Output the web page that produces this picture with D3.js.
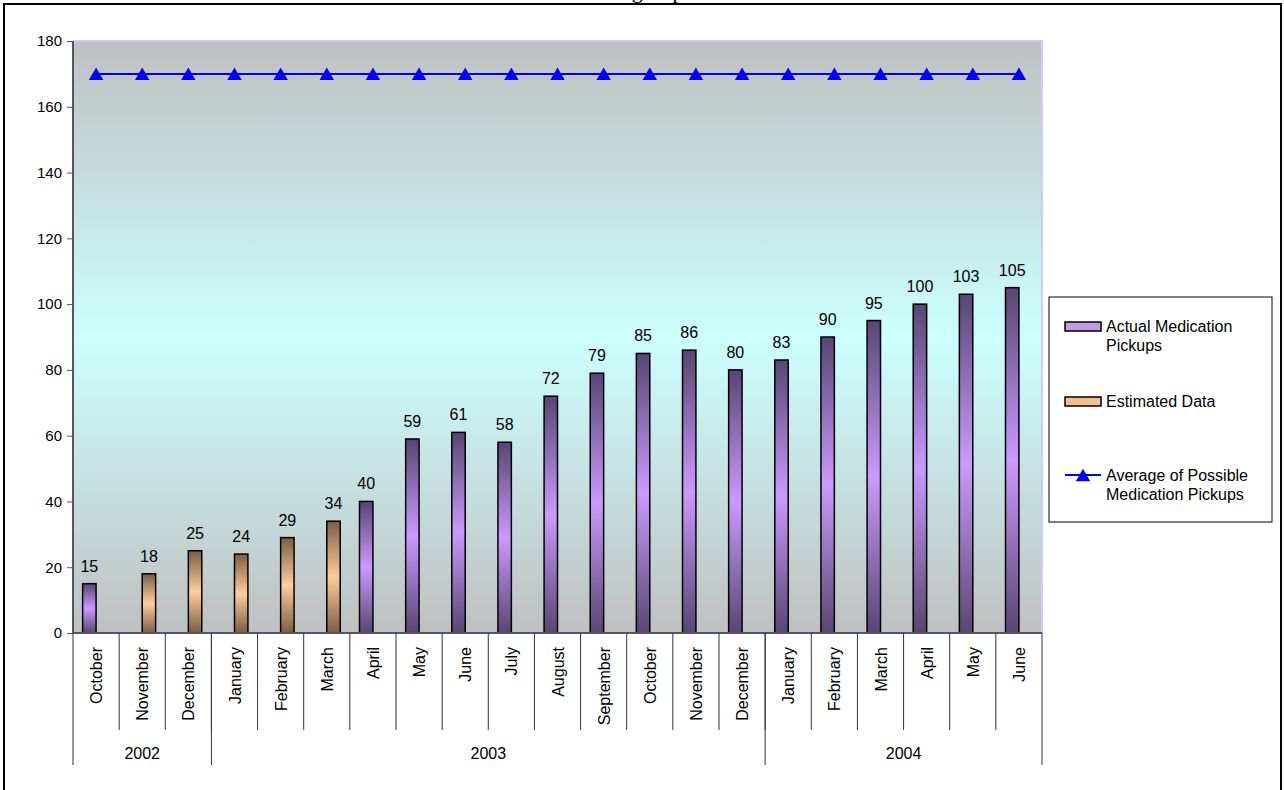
<!DOCTYPE html>
<html lang="en">
    <head>
        <title>Medication Pickups</title>
        <script src="https://d3js.org/d3.v7.min.js"></script>
        <style>
            body { margin: 0; background: #fff; }
            text { font-family: 'Liberation Sans', Arial, sans-serif; }
        </style>
    </head>
    <body>
    <div id="mainDiv"></div>

        <script type="text/javascript">
            // chart values
            const months = ['October', 'November', 'December', 'January', 'February', 'March', 'April',
                'May', 'June', 'July', 'August', 'September', 'October', 'November', 'December',
                'January', 'February', 'March', 'April', 'May', 'June']
            const years = [
                { label: '2002', from: 0, to: 3 },
                { label: '2003', from: 3, to: 15 },
                { label: '2004', from: 15, to: 21 }
            ]
            const actualPickups = [15, null, null, null, null, null, 40, 59, 61, 58, 72, 79, 85, 86, 80,
                83, 90, 95, 100, 103, 105]
            const estimatedData = [null, 18, 25, 24, 29, 34, null, null, null, null, null, null, null,
                null, null, null, null, null, null, null, null]
            const possibleAverage = [170, 170, 170, 170, 170, 170, 170, 170, 170, 170, 170, 170, 170,
                170, 170, 170, 170, 170, 170, 170, 170]
            const yTicks = [0, 20, 40, 60, 80, 100, 120, 140, 160, 180]

            const width = 1284
            const height = 790

            const plot = { left: 73, right: 1042, top: 41, bottom: 633 }

            const svg = d3.select('#mainDiv').append('svg')
                .attr('width', width)
                .attr('height', height)

            const defs = svg.append('defs')

            // vertical gradients: dark - light - dark
            function addGradient(id, edge, mid) {
                const g = defs.append('linearGradient')
                    .attr('id', id)
                    .attr('x1', 0).attr('y1', 0).attr('x2', 0).attr('y2', 1)
                g.append('stop').attr('offset', '0%').attr('stop-color', edge)
                g.append('stop').attr('offset', '50%').attr('stop-color', mid)
                g.append('stop').attr('offset', '100%').attr('stop-color', edge)
            }
            addGradient('bgGrad', '#c0c0c0', '#ccffff')
            addGradient('actualGrad', '#574672', '#cc99ff')
            addGradient('estGrad', '#7a5e45', '#ffcc99')

            // outer frame and cut off title
            svg.append('rect')
                .attr('x', 4).attr('y', 4)
                .attr('width', 1277).attr('height', 820)
                .attr('fill', 'none')
                .attr('stroke', '#000')
                .attr('stroke-width', 2)

            svg.append('text')
                .attr('x', 564).attr('y', -2)
                .style('font-family', "'Liberation Serif', 'Times New Roman', serif")
                .style('font-size', '22px')
                .text('Tracking Report')

            const xScale = d3.scaleBand()
                .domain(d3.range(months.length))
                .range([plot.left, plot.right])
                .padding(0)

            const xSeries = d3.scaleBand()
                .domain(['actual', 'estimated'])
                .range([0, xScale.bandwidth()])
                .paddingInner(0)
                .paddingOuter(0.72)

            const yScale = d3.scaleLinear()
                .domain([0, 180])
                .range([plot.bottom, plot.top])

            // plot area
            svg.append('rect')
                .attr('x', plot.left).attr('y', plot.top)
                .attr('width', plot.right - plot.left)
                .attr('height', plot.bottom - plot.top)
                .attr('fill', 'url(#bgGrad)')

            svg.append('path')
                .attr('d', `M${plot.left},${plot.top}H${plot.right}V${plot.bottom}`)
                .attr('fill', 'none')
                .attr('stroke', '#ccccff')
                .attr('stroke-width', 2)

            // y axis
            const yAxis = d3.axisLeft(yScale)
                .tickValues(yTicks)
                .tickSize(6)
                .tickPadding(5)

            const yAxisPlot = svg.append('g')
                .attr('transform', `translate(${plot.left},0)`)
                .call(yAxis)
            yAxisPlot.select('.domain').remove()
            yAxisPlot.selectAll('.tick line').attr('stroke', '#555')
            yAxisPlot.selectAll('.tick text')
                .style('font-size', '15px')
                .attr('fill', '#000')

            // bars
            function drawBars(values, key, fill) {
                const rows = values.map((v, i) => ({ i, v })).filter(d => d.v !== null)
                svg.append('g').selectAll('rect')
                    .data(rows)
                    .join('rect')
                    .attr('x', d => xScale(d.i) + xSeries(key))
                    .attr('y', d => yScale(d.v))
                    .attr('width', xSeries.bandwidth())
                    .attr('height', d => yScale(0) - yScale(d.v))
                    .attr('fill', fill)
                    .attr('stroke', '#000')
                    .attr('stroke-width', 1.5)

                svg.append('g').selectAll('text')
                    .data(rows)
                    .join('text')
                    .attr('x', d => xScale(d.i) + xSeries(key) + xSeries.bandwidth() / 2)
                    .attr('y', d => yScale(d.v) - 12)
                    .attr('text-anchor', 'middle')
                    .style('font-size', '16px')
                    .text(d => d.v)
            }
            drawBars(actualPickups, 'actual', 'url(#actualGrad)')
            drawBars(estimatedData, 'estimated', 'url(#estGrad)')

            // average line with triangle markers
            const center = i => xScale(i) + xScale.bandwidth() / 2
            const line = d3.line()
                .x((d, i) => center(i))
                .y(d => yScale(d))

            svg.append('path')
                .datum(possibleAverage)
                .attr('d', line)
                .attr('fill', 'none')
                .attr('stroke', '#0000ff')
                .attr('stroke-width', 2)

            const triangle = d3.symbol().type(d3.symbolTriangle).size(90)
            svg.append('g').selectAll('path')
                .data(possibleAverage)
                .join('path')
                .attr('d', triangle)
                .attr('transform', (d, i) => `translate(${center(i)},${yScale(d) + 2})`)
                .attr('fill', '#0000ff')

            // x axis with month and year dividers
            const axisColor = '#555566'
            svg.append('line')
                .attr('x1', plot.left).attr('x2', plot.right)
                .attr('y1', plot.bottom).attr('y2', plot.bottom)
                .attr('stroke', axisColor).attr('stroke-width', 2)

            svg.append('line')
                .attr('x1', plot.left).attr('x2', plot.left)
                .attr('y1', plot.top).attr('y2', plot.bottom)
                .attr('stroke', axisColor).attr('stroke-width', 2)

            svg.append('g').selectAll('line')
                .data(d3.range(1, months.length))
                .join('line')
                .attr('x1', d => xScale(d)).attr('x2', d => xScale(d))
                .attr('y1', plot.bottom).attr('y2', 730)
                .attr('stroke', '#333')

            const yearEdges = [0].concat(years.map(y => y.to))
            svg.append('g').selectAll('line')
                .data(yearEdges)
                .join('line')
                .attr('x1', d => d < months.length ? xScale(d) : plot.right)
                .attr('x2', d => d < months.length ? xScale(d) : plot.right)
                .attr('y1', plot.bottom).attr('y2', 765)
                .attr('stroke', '#333')

            svg.append('g').selectAll('text')
                .data(months)
                .join('text')
                .attr('transform', (d, i) => `translate(${center(i) + 6},647) rotate(-90)`)
                .attr('text-anchor', 'end')
                .style('font-size', '16px')
                .text(d => d)

            svg.append('g').selectAll('text')
                .data(years)
                .join('text')
                .attr('x', d => (xScale(d.from) + (d.to < months.length ? xScale(d.to) : plot.right)) / 2)
                .attr('y', 759)
                .attr('text-anchor', 'middle')
                .style('font-size', '16px')
                .text(d => d.label)

            // legend
            const legend = svg.append('g')
            legend.append('rect')
                .attr('x', 1049).attr('y', 297)
                .attr('width', 223).attr('height', 225)
                .attr('fill', '#fff')
                .attr('stroke', '#000')

            legend.append('rect')
                .attr('x', 1065).attr('y', 322).attr('width', 36).attr('height', 9)
                .attr('fill', '#c29be8').attr('stroke', '#000').attr('stroke-width', 1.5)
            legend.append('rect')
                .attr('x', 1065).attr('y', 397).attr('width', 36).attr('height', 9)
                .attr('fill', '#f2c08e').attr('stroke', '#000').attr('stroke-width', 1.5)
            legend.append('line')
                .attr('x1', 1065).attr('x2', 1101).attr('y1', 475).attr('y2', 475)
                .attr('stroke', '#0000ff').attr('stroke-width', 2)
            legend.append('path')
                .attr('d', triangle)
                .attr('transform', 'translate(1083,477)')
                .attr('fill', '#0000ff')

            const legendLines = [
                { text: 'Actual Medication', y: 332 },
                { text: 'Pickups', y: 351 },
                { text: 'Estimated Data', y: 407 },
                { text: 'Average of Possible', y: 481 },
                { text: 'Medication Pickups', y: 500 }
            ]
            legend.selectAll('text')
                .data(legendLines)
                .join('text')
                .attr('x', 1106)
                .attr('y', d => d.y)
                .style('font-size', '16px')
                .text(d => d.text)
        </script>
    </body>
</html>
